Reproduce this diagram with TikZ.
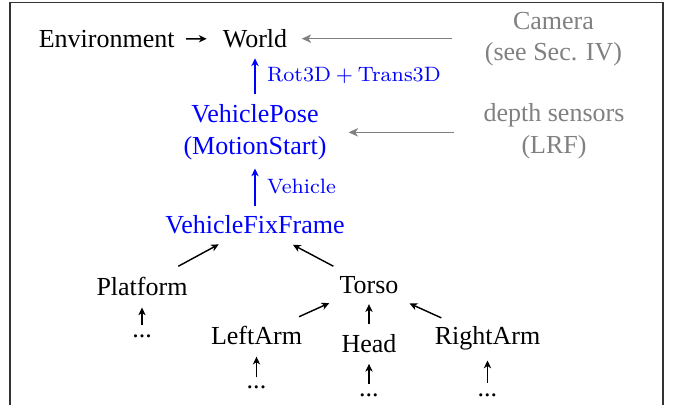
\documentclass[tikz,border=0pt]{standalone}
\usepackage{fontspec}
\usetikzlibrary{arrows.meta}
\newfontfamily\tms{Liberation Serif}
\begin{document}
\begin{tikzpicture}[x=0.3846pt,y=-0.3846pt,
  txt/.style={font=\tms\fontsize{10}{12}\selectfont, inner sep=0pt, anchor=base},
  bl/.style={txt, text=blue},
  gr/.style={txt, text=black!50},
  elab/.style={font=\fontsize{8}{9.6}\selectfont, text=blue, inner sep=0pt, right=4.4pt},
  arr/.style={-{Stealth[length=3pt,width=2.8pt,inset=0.9pt]}, line width=0.55pt},
  barr/.style={arr, draw=blue},
  garr/.style={-{Stealth[length=3.6pt,width=3.2pt,inset=1pt]}, line width=0.55pt, draw=black!50},
]
\useasboundingbox (0,0) rectangle (676,405);
\draw[black!80, line width=0.5pt] (10,2.5) rectangle (663,430);

\node[txt] (env) at (106.7,47.5) {Environment};
\node[txt] (world) at (255,47.5) {World};
\node[gr] (cam) at (553.5,29.5) {\begin{tabular}[t]{@{}c@{}}Camera\\(see Sec. IV)\end{tabular}};
\node[bl] (vp) at (255,123) {\begin{tabular}[t]{@{}c@{}}VehiclePose\\(MotionStart)\end{tabular}};
\node[gr] (dep) at (554,122) {\begin{tabular}[t]{@{}c@{}}depth sensors\\(LRF)\end{tabular}};
\node[bl] (vff) at (255,233.5) {VehicleFixFrame};
\node[txt] (plat) at (142,295) {Platform};
\node[txt] (torso) at (369,293.5) {Torso};
\node[txt] (pdots) at (142,337) {...};
\node[txt] (larm) at (256.5,345) {LeftArm};
\node[txt] (head) at (369,352.7) {Head};
\node[txt] (rarm) at (487.5,345) {RightArm};
\node[txt] (ldots) at (256.5,388.5) {...};
\node[txt] (hdots) at (369,396) {...};
\node[txt] (rdots) at (487.5,396) {...};

\draw[arr, shorten <=4.2pt, shorten >=6pt] (env) -- (world);
\draw[garr, shorten <=12.3pt, shorten >=5.4pt] (world.east -| cam.west) -- (world.east);
\draw[garr, shorten <=11.3pt, shorten >=8.3pt] (vp.east -| dep.west) -- (vp.east);
\draw[barr, shorten <=2.4pt, shorten >=3.8pt] (vp.north) -- node[elab,pos=0.48]{Rot3D${}+{}$Trans3D} (world.south);
\draw[barr, shorten <=3.5pt, shorten >=1.7pt] (vff.north) -- node[elab,pos=0.56]{Vehicle} (vp.south);
\draw[arr, shorten <=8pt, shorten >=8pt] (plat) -- (vff);
\draw[arr, shorten <=8pt, shorten >=8.5pt] (torso) -- (vff);
\draw[arr, shorten <=8.8pt, shorten >=8.2pt] (larm) -- (torso);
\draw[arr, shorten <=3.8pt, shorten >=3.8pt] (head) -- (torso);
\draw[arr, shorten <=8pt, shorten >=8.6pt] (rarm) -- (torso);
\draw[arr, shorten <=3.2pt, shorten >=4.5pt] (pdots) -- (plat);
\draw[arr, shorten <=3pt, shorten >=4.2pt] (ldots) -- (larm);
\draw[arr, shorten <=3.2pt, shorten >=4pt] (hdots) -- (head);
\draw[arr, shorten <=3.9pt, shorten >=3.6pt] (rdots) -- (rarm);
\end{tikzpicture}
\end{document}
